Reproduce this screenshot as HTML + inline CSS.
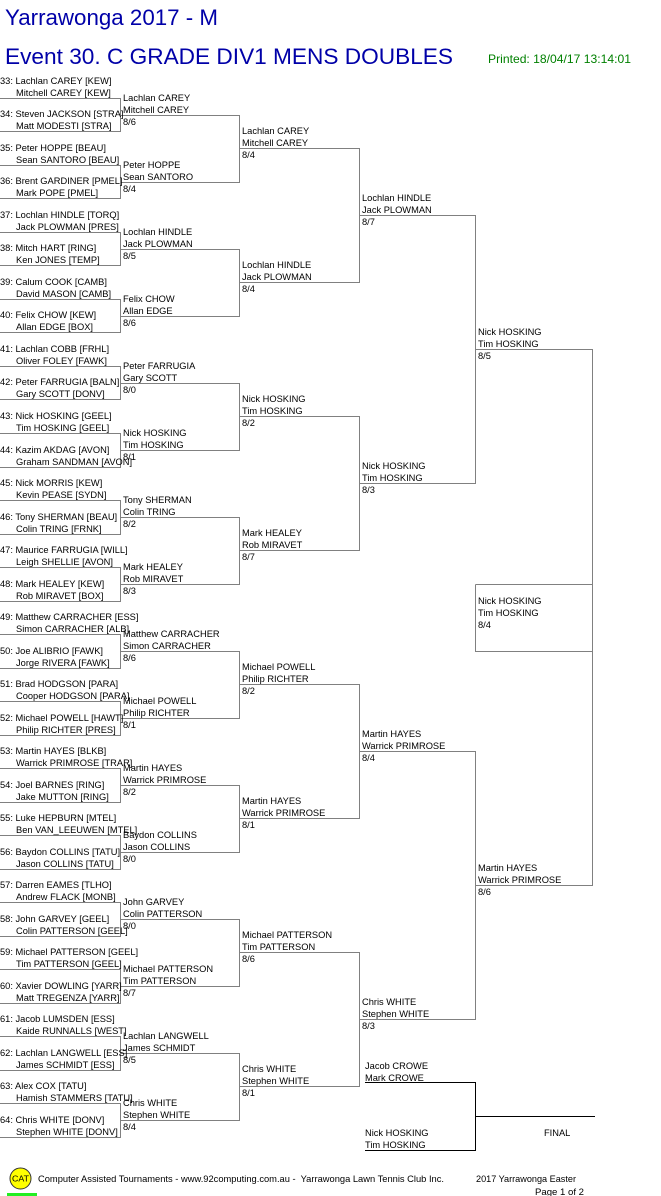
<!DOCTYPE html>
<html>
<head>
<meta charset="utf-8">
<style>
html,body{margin:0;padding:0;background:#ffffff;}
svg{display:block;}
text{font-family:"Liberation Sans",Arial,sans-serif;font-size:9.3px;fill:#000;}
.t{fill:#0000a8;font-size:22.4px;}
.p{fill:#008000;font-size:12px;}
.f{font-size:9.3px;}
</style>
</head>
<body>
<svg width="661" height="1196" viewBox="0 0 661 1196" xmlns="http://www.w3.org/2000/svg">
<rect x="0" y="0" width="661" height="1196" fill="#fff"/>
<!-- Titles -->
<text class="t" x="5" y="25" textLength="213" lengthAdjust="spacingAndGlyphs">Yarrawonga 2017 - M</text>
<text class="t" x="5" y="64" textLength="448" lengthAdjust="spacingAndGlyphs">Event 30. C GRADE DIV1 MENS DOUBLES</text>
<text class="p" x="488" y="63" textLength="143" lengthAdjust="spacingAndGlyphs">Printed: 18/04/17 13:14:01</text>

<!-- Gray bracket lines -->
<path fill="none" stroke="#808080" stroke-width="1" shape-rendering="crispEdges" d="
M0 98.5H120.5V131.5H0
M0 165.5H120.5V198.5H0
M0 232.5H120.5V265.5H0
M0 299.5H120.5V332.5H0
M0 366.5H120.5V399.5H0
M0 433.5H120.5V467.5H0
M0 500.5H120.5V534.5H0
M0 567.5H120.5V601.5H0
M0 634.5H120.5V668.5H0
M0 701.5H120.5V735.5H0
M0 768.5H120.5V802.5H0
M0 835.5H120.5V869.5H0
M0 902.5H120.5V936.5H0
M0 969.5H120.5V1003.5H0
M0 1036.5H120.5V1070.5H0
M0 1103.5H120.5V1137.5H0
M120.5 115.5H239.5V182.5H120.5
M120.5 249.5H239.5V316.5H120.5
M120.5 383.5H239.5V450.5H120.5
M120.5 517.5H239.5V584.5H120.5
M120.5 651.5H239.5V718.5H120.5
M120.5 785.5H239.5V852.5H120.5
M120.5 919.5H239.5V986.5H120.5
M120.5 1053.5H239.5V1120.5H120.5
M239.5 148.5H359.5V282.5H239.5
M239.5 416.5H359.5V550.5H239.5
M239.5 684.5H359.5V818.5H239.5
M239.5 952.5H359.5V1086.5H239.5
M359.5 215.5H475.5V483.5H359.5
M359.5 751.5H475.5V1019.5H359.5
M475.5 349.5H592.5V885.5H475.5
M475.5 584.5H592.5
M475.5 584.5V651.5H592.5
"/>

<!-- Final lines (black) -->
<path fill="none" stroke="#000" stroke-width="1" shape-rendering="crispEdges" d="
M365 1082.5H475.5V1150.5H365
M475.5 1116.5H595
"/>

<!-- Round 1 entries -->
<text x="0" y="84">33: Lachlan CAREY [KEW]</text><text x="16" y="96">Mitchell CAREY [KEW]</text>
<text x="0" y="117">34: Steven JACKSON [STRA]</text><text x="16" y="129">Matt MODESTI [STRA]</text>
<text x="0" y="151">35: Peter HOPPE [BEAU]</text><text x="16" y="163">Sean SANTORO [BEAU]</text>
<text x="0" y="184">36: Brent GARDINER [PMEL]</text><text x="16" y="196">Mark POPE [PMEL]</text>
<text x="0" y="218">37: Lochlan HINDLE [TORQ]</text><text x="16" y="230">Jack PLOWMAN [PRES]</text>
<text x="0" y="251">38: Mitch HART [RING]</text><text x="16" y="263">Ken JONES [TEMP]</text>
<text x="0" y="285">39: Calum COOK [CAMB]</text><text x="16" y="297">David MASON [CAMB]</text>
<text x="0" y="318">40: Felix CHOW [KEW]</text><text x="16" y="330">Allan EDGE [BOX]</text>
<text x="0" y="352">41: Lachlan COBB [FRHL]</text><text x="16" y="364">Oliver FOLEY [FAWK]</text>
<text x="0" y="385">42: Peter FARRUGIA [BALN]</text><text x="16" y="397">Gary SCOTT [DONV]</text>
<text x="0" y="419">43: Nick HOSKING [GEEL]</text><text x="16" y="431">Tim HOSKING [GEEL]</text>
<text x="0" y="453">44: Kazim AKDAG [AVON]</text><text x="16" y="465">Graham SANDMAN [AVON]</text>
<text x="0" y="486">45: Nick MORRIS [KEW]</text><text x="16" y="498">Kevin PEASE [SYDN]</text>
<text x="0" y="520">46: Tony SHERMAN [BEAU]</text><text x="16" y="532">Colin TRING [FRNK]</text>
<text x="0" y="553">47: Maurice FARRUGIA [WILL]</text><text x="16" y="565">Leigh SHELLIE [AVON]</text>
<text x="0" y="587">48: Mark HEALEY [KEW]</text><text x="16" y="599">Rob MIRAVET [BOX]</text>
<text x="0" y="620">49: Matthew CARRACHER [ESS]</text><text x="16" y="632">Simon CARRACHER [ALB]</text>
<text x="0" y="654">50: Joe ALIBRIO [FAWK]</text><text x="16" y="666">Jorge RIVERA [FAWK]</text>
<text x="0" y="687">51: Brad HODGSON [PARA]</text><text x="16" y="699">Cooper HODGSON [PARA]</text>
<text x="0" y="721">52: Michael POWELL [HAWT]</text><text x="16" y="733">Philip RICHTER [PRES]</text>
<text x="0" y="754">53: Martin HAYES [BLKB]</text><text x="16" y="766">Warrick PRIMROSE [TRAR]</text>
<text x="0" y="788">54: Joel BARNES [RING]</text><text x="16" y="800">Jake MUTTON [RING]</text>
<text x="0" y="821">55: Luke HEPBURN [MTEL]</text><text x="16" y="833">Ben VAN_LEEUWEN [MTEL]</text>
<text x="0" y="855">56: Baydon COLLINS [TATU]</text><text x="16" y="867">Jason COLLINS [TATU]</text>
<text x="0" y="888">57: Darren EAMES [TLHO]</text><text x="16" y="900">Andrew FLACK [MONB]</text>
<text x="0" y="922">58: John GARVEY [GEEL]</text><text x="16" y="934">Colin PATTERSON [GEEL]</text>
<text x="0" y="955">59: Michael PATTERSON [GEEL]</text><text x="16" y="967">Tim PATTERSON [GEEL]</text>
<text x="0" y="989">60: Xavier DOWLING [YARR]</text><text x="16" y="1001">Matt TREGENZA [YARR]</text>
<text x="0" y="1022">61: Jacob LUMSDEN [ESS]</text><text x="16" y="1034">Kaide RUNNALLS [WEST]</text>
<text x="0" y="1056">62: Lachlan LANGWELL [ESS]</text><text x="16" y="1068">James SCHMIDT [ESS]</text>
<text x="0" y="1089">63: Alex COX [TATU]</text><text x="16" y="1101">Hamish STAMMERS [TATU]</text>
<text x="0" y="1123">64: Chris WHITE [DONV]</text><text x="16" y="1135">Stephen WHITE [DONV]</text>

<!-- Round 2 -->
<text x="123" y="101">Lachlan CAREY</text><text x="123" y="113">Mitchell CAREY</text><text x="123" y="125">8/6</text>
<text x="123" y="168">Peter HOPPE</text><text x="123" y="180">Sean SANTORO</text><text x="123" y="192">8/4</text>
<text x="123" y="235">Lochlan HINDLE</text><text x="123" y="247">Jack PLOWMAN</text><text x="123" y="259">8/5</text>
<text x="123" y="302">Felix CHOW</text><text x="123" y="314">Allan EDGE</text><text x="123" y="326">8/6</text>
<text x="123" y="369">Peter FARRUGIA</text><text x="123" y="381">Gary SCOTT</text><text x="123" y="393">8/0</text>
<text x="123" y="436">Nick HOSKING</text><text x="123" y="448">Tim HOSKING</text><text x="123" y="460">8/1</text>
<text x="123" y="503">Tony SHERMAN</text><text x="123" y="515">Colin TRING</text><text x="123" y="527">8/2</text>
<text x="123" y="570">Mark HEALEY</text><text x="123" y="582">Rob MIRAVET</text><text x="123" y="594">8/3</text>
<text x="123" y="637">Matthew CARRACHER</text><text x="123" y="649">Simon CARRACHER</text><text x="123" y="661">8/6</text>
<text x="123" y="704">Michael POWELL</text><text x="123" y="716">Philip RICHTER</text><text x="123" y="728">8/1</text>
<text x="123" y="771">Martin HAYES</text><text x="123" y="783">Warrick PRIMROSE</text><text x="123" y="795">8/2</text>
<text x="123" y="838">Baydon COLLINS</text><text x="123" y="850">Jason COLLINS</text><text x="123" y="862">8/0</text>
<text x="123" y="905">John GARVEY</text><text x="123" y="917">Colin PATTERSON</text><text x="123" y="929">8/0</text>
<text x="123" y="972">Michael PATTERSON</text><text x="123" y="984">Tim PATTERSON</text><text x="123" y="996">8/7</text>
<text x="123" y="1039">Lachlan LANGWELL</text><text x="123" y="1051">James SCHMIDT</text><text x="123" y="1063">8/5</text>
<text x="123" y="1106">Chris WHITE</text><text x="123" y="1118">Stephen WHITE</text><text x="123" y="1130">8/4</text>

<!-- Round 3 -->
<text x="242" y="134">Lachlan CAREY</text><text x="242" y="146">Mitchell CAREY</text><text x="242" y="158">8/4</text>
<text x="242" y="268">Lochlan HINDLE</text><text x="242" y="280">Jack PLOWMAN</text><text x="242" y="292">8/4</text>
<text x="242" y="402">Nick HOSKING</text><text x="242" y="414">Tim HOSKING</text><text x="242" y="426">8/2</text>
<text x="242" y="536">Mark HEALEY</text><text x="242" y="548">Rob MIRAVET</text><text x="242" y="560">8/7</text>
<text x="242" y="670">Michael POWELL</text><text x="242" y="682">Philip RICHTER</text><text x="242" y="694">8/2</text>
<text x="242" y="804">Martin HAYES</text><text x="242" y="816">Warrick PRIMROSE</text><text x="242" y="828">8/1</text>
<text x="242" y="938">Michael PATTERSON</text><text x="242" y="950">Tim PATTERSON</text><text x="242" y="962">8/6</text>
<text x="242" y="1072">Chris WHITE</text><text x="242" y="1084">Stephen WHITE</text><text x="242" y="1096">8/1</text>

<!-- Round 4 -->
<text x="362" y="201">Lochlan HINDLE</text><text x="362" y="213">Jack PLOWMAN</text><text x="362" y="225">8/7</text>
<text x="362" y="469">Nick HOSKING</text><text x="362" y="481">Tim HOSKING</text><text x="362" y="493">8/3</text>
<text x="362" y="737">Martin HAYES</text><text x="362" y="749">Warrick PRIMROSE</text><text x="362" y="761">8/4</text>
<text x="362" y="1005">Chris WHITE</text><text x="362" y="1017">Stephen WHITE</text><text x="362" y="1029">8/3</text>

<!-- Round 5 -->
<text x="478" y="335">Nick HOSKING</text><text x="478" y="347">Tim HOSKING</text><text x="478" y="359">8/5</text>
<text x="478" y="871">Martin HAYES</text><text x="478" y="883">Warrick PRIMROSE</text><text x="478" y="895">8/6</text>

<!-- Semi box -->
<text x="478" y="604">Nick HOSKING</text><text x="478" y="616">Tim HOSKING</text><text x="478" y="628">8/4</text>

<!-- Final -->
<text x="365" y="1069">Jacob CROWE</text><text x="365" y="1081">Mark CROWE</text>
<text x="365" y="1136">Nick HOSKING</text><text x="365" y="1148">Tim HOSKING</text>
<text x="544" y="1136">FINAL</text>

<!-- Footer -->
<circle cx="20.5" cy="1178.5" r="10.5" fill="#ffff00" stroke="#333" stroke-width="1"/>
<text x="20.5" y="1181.5" text-anchor="middle" style="font-size:8.5px" textLength="17" lengthAdjust="spacingAndGlyphs">CAT</text>
<text class="f" x="38" y="1182" textLength="406" lengthAdjust="spacingAndGlyphs">Computer Assisted Tournaments - www.92computing.com.au -&#160; Yarrawonga Lawn Tennis Club Inc.</text>
<text class="f" x="476" y="1182" textLength="100" lengthAdjust="spacingAndGlyphs">2017 Yarrawonga Easter</text>
<text class="f" x="535" y="1195" textLength="49" lengthAdjust="spacingAndGlyphs">Page 1 of 2</text>
<rect x="7" y="1193" width="30" height="3" fill="#22ee22"/>
</svg>
</body>
</html>
